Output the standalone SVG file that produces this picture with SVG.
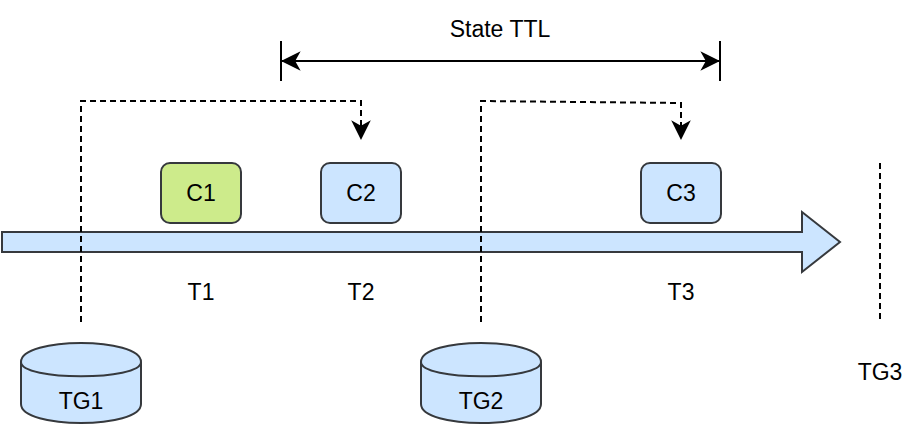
<svg xmlns="http://www.w3.org/2000/svg" width="920" height="424" viewBox="0 0 920 424">
<style>
text{font-family:"Liberation Sans",Arial,sans-serif;font-size:23px;fill:#000;text-anchor:middle}
.box{stroke:#36393d;stroke-width:2}
.blue{fill:#cce5ff}
.green{fill:#cdeb8b}
.dash{fill:none;stroke:#000;stroke-width:2;stroke-dasharray:6 4}
.solid{fill:none;stroke:#000;stroke-width:2}
</style>
<defs>
<marker id="ah" markerUnits="userSpaceOnUse" markerWidth="24" markerHeight="24" viewBox="-20 -10 22 20" refX="0" refY="0" orient="auto-start-reverse" overflow="visible">
<path d="M0,0 L-18,-9 L-13,0 L-18,9 Z" fill="#000" stroke="none"/>
</marker>
</defs>
<rect width="920" height="424" fill="#fff"/>

<g id="timeline">
<path class="box blue" d="M2,232 H802 V212 L840,242 L802,272 V252 H2 Z"/>
</g>

<g id="connectors">
<path class="dash" d="M81,322 V101 H361 V140" marker-end="url(#ah)"/>
<path class="dash" d="M481,322 V101 L681,103 V140" marker-end="url(#ah)"/>
<path class="dash" d="M880,163 V322"/>
<path class="solid" d="M281,61 H720" marker-start="url(#ah)" marker-end="url(#ah)"/>
<path class="solid" d="M281,41 V81 M720,41 V81"/>
</g>

<g id="state-ttl"><text x="500" y="37">State TTL</text></g>

<g id="c1"><rect class="box green" x="161" y="163" width="80" height="60" rx="9"/><text x="201" y="201">C1</text></g>
<g id="c2"><rect class="box blue" x="321" y="163" width="80" height="60" rx="9"/><text x="361" y="201">C2</text></g>
<g id="c3"><rect class="box blue" x="641" y="163" width="80" height="60" rx="9"/><text x="681" y="201">C3</text></g>

<g id="t1"><text x="201" y="300">T1</text></g>
<g id="t2"><text x="361" y="300">T2</text></g>
<g id="t3"><text x="681" y="300">T3</text></g>

<g id="tg1">
<path class="box blue" d="M21,362 C21,336.7 141,336.7 141,362 V404 C141,429.3 21,429.3 21,404 Z"/>
<path class="box" fill="none" d="M21,362 C21,381 141,381 141,362"/>
<text x="81" y="409">TG1</text>
</g>
<g id="tg2">
<path class="box blue" d="M421,362 C421,336.7 541,336.7 541,362 V404 C541,429.3 421,429.3 421,404 Z"/>
<path class="box" fill="none" d="M421,362 C421,381 541,381 541,362"/>
<text x="481" y="409">TG2</text>
</g>
<g id="tg3"><text x="880" y="380">TG3</text></g>
</svg>
